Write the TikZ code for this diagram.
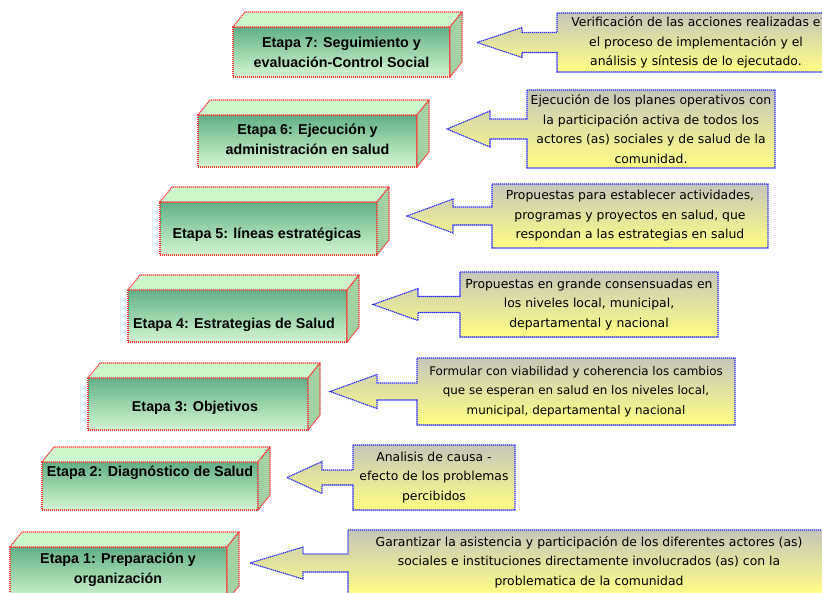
\documentclass[tikz,border=0pt]{standalone}
\usepackage{fontspec}
\setmainfont{DejaVu Sans}
\newfontfamily\lblfont{Liberation Sans}
\usetikzlibrary{calc}
\definecolor{frontTop}{HTML}{62B086}
\definecolor{frontBot}{HTML}{D2F7D2}
\definecolor{topFace}{HTML}{CCF7CC}
\definecolor{sideFace}{HTML}{A2D2A2}
\definecolor{boxRed}{HTML}{FF3535}
\definecolor{calTop}{HTML}{C6C6BA}
\definecolor{calBot}{HTML}{FFFF84}
\definecolor{calBlue}{HTML}{2A2AFF}
\tikzset{
  redline/.style={draw=boxRed, line width=1.1pt, dash pattern=on 1.3pt off 0.7pt, line join=round},
  frontface/.style={redline, shade, top color=frontTop, bottom color=frontBot, inner sep=0pt, outer sep=0pt, anchor=north west},
  topfacestyle/.style={redline, fill=topFace},
  sidefacestyle/.style={redline, fill=sideFace},
  calbox/.style={inner sep=0pt, outer sep=0pt, anchor=north west},
  calshape/.style={draw=calBlue, line width=1.1pt, dash pattern=on 1.3pt off 0.7pt, line join=miter, shade, top color=calTop, bottom color=calBot},
  lbl/.style={font=\lblfont\bfseries\fontsize{14.3}{20}\selectfont, align=center, inner sep=0pt},
  caltext/.style={font=\fontsize{12.4}{19.5}\selectfont, align=center, inner sep=0pt}
}
% name, x, y, w, h
\newcommand\cuboid[5]{%
  \node[frontface, minimum width=#4pt, minimum height=#5pt] (#1) at (#2,#3) {};
  \path[topfacestyle] (#1.north west) -- ++(12,-15) -- ($(#1.north east)+(12,-15)$) -- (#1.north east) -- cycle;
  \path[sidefacestyle] (#1.north east) -- ++(12,-15) -- ($(#1.south east)+(12,-15)$) -- (#1.south east) -- cycle;
}
% name, x, y, w, h, tipx, headbackx, headhalf, shafthalf
\newcommand\callout[9]{%
  \node[calbox, minimum width=#4pt, minimum height=#5pt] (#1) at (#2,#3) {};
  \coordinate (#1tip) at (#6,0 |- #1.west);
  \coordinate (#1hb) at (#7,0 |- #1.west);
  \path[calshape] (#1.north west) -- (#1.north east) -- (#1.south east) -- (#1.south west)
    -- ($(#1.west)+(0,#9)$) -- ($(#1hb)+(0,#9)$) -- ($(#1hb)+(0,#8)$) -- (#1tip)
    -- ($(#1hb)+(0,-#8)$) -- ($(#1hb)+(0,-#9)$) -- ($(#1.west)+(0,-#9)$) -- cycle;
}
\begin{document}
\begin{tikzpicture}[x=1pt, y=-1pt]
\path[use as bounding box, clip] (0,0) rectangle (822,592);
\fill[white] (0,0) rectangle (822,592);

% Etapa 7
\cuboid{e7}{233}{27}{217}{50}
\node[lbl] (e7t) at (341.5,52) {Etapa 7: Seguimiento y\\evaluación-Control Social};
\callout{c7}{557}{13}{278}{59}{477}{522}{15}{10}
\node[caltext] (c7t) at (c7) {Verificación de las acciones realizadas e\\el proceso de implementación y el\\análisis y síntesis de lo ejecutado.};

% Etapa 6
\cuboid{e6}{198}{115}{219}{52}
\node[lbl] (e6t) at (307.5,139) {Etapa 6: Ejecución y\\administración en salud};
\callout{c6}{527}{90}{248}{78}{447}{490}{18}{10}
\node[caltext] (c6t) at (c6) {Ejecución de los planes operativos con\\la participación activa de todos los\\actores (as) sociales y de salud de la\\comunidad.};

% Etapa 5
\cuboid{e5}{160}{202}{217}{53}
\node[lbl] (e5t) at (267,235) {Etapa 5: líneas estratégicas};
\callout{c5}{492}{184}{276}{64}{407}{453}{17}{9}
\node[caltext] (c5t) at (c5) {Propuestas para establecer actividades,\\programas y proyectos en salud, que\\respondan a las estrategias en salud};

% Etapa 4
\cuboid{e4}{128}{290}{219}{52}
\node[lbl] (e4t) at (234,325) {Etapa 4: Estrategias de Salud};
\callout{c4}{460}{272}{258}{65}{373}{418}{16}{8}
\node[caltext] (c4t) at (c4) {Propuestas en grande consensuadas en\\los niveles local, municipal,\\departamental y nacional};

% Etapa 3
\cuboid{e3}{88}{378}{220}{52}
\node[lbl] (e3t) at (195,408) {Etapa 3: Objetivos};
\callout{c3}{417}{358}{318}{67}{330}{377}{17}{8.5}
\node[caltext, font=\fontsize{11.9}{19.5}\selectfont] (c3t) at (c3) {Formular con viabilidad y coherencia los cambios\\que se esperan en salud en los niveles local,\\municipal, departamental y nacional};

% Etapa 2
\cuboid{e2}{42}{462}{216}{48}
\node[lbl] (e2t) at (150,473) {Etapa 2: Diagnóstico de Salud};
\callout{c2}{353}{445}{162}{65}{287}{322}{16}{7.5}
\node[caltext] (c2t) at (c2) {Analisis de causa -\\efecto de los problemas\\percibidos};

% Etapa 1
\cuboid{e1}{10}{547}{217}{54}
\node[lbl] (e1t) at (118,570) {Etapa 1: Preparación y\\organización};
\callout{c1}{348}{530}{482}{66}{250}{303}{16}{9}
\node[caltext] (c1t) at (589,562) {Garantizar la asistencia y participación de los diferentes actores (as)\\sociales e instituciones directamente involucrados (as) con la\\problematica de la comunidad};
\end{tikzpicture}
\end{document}
